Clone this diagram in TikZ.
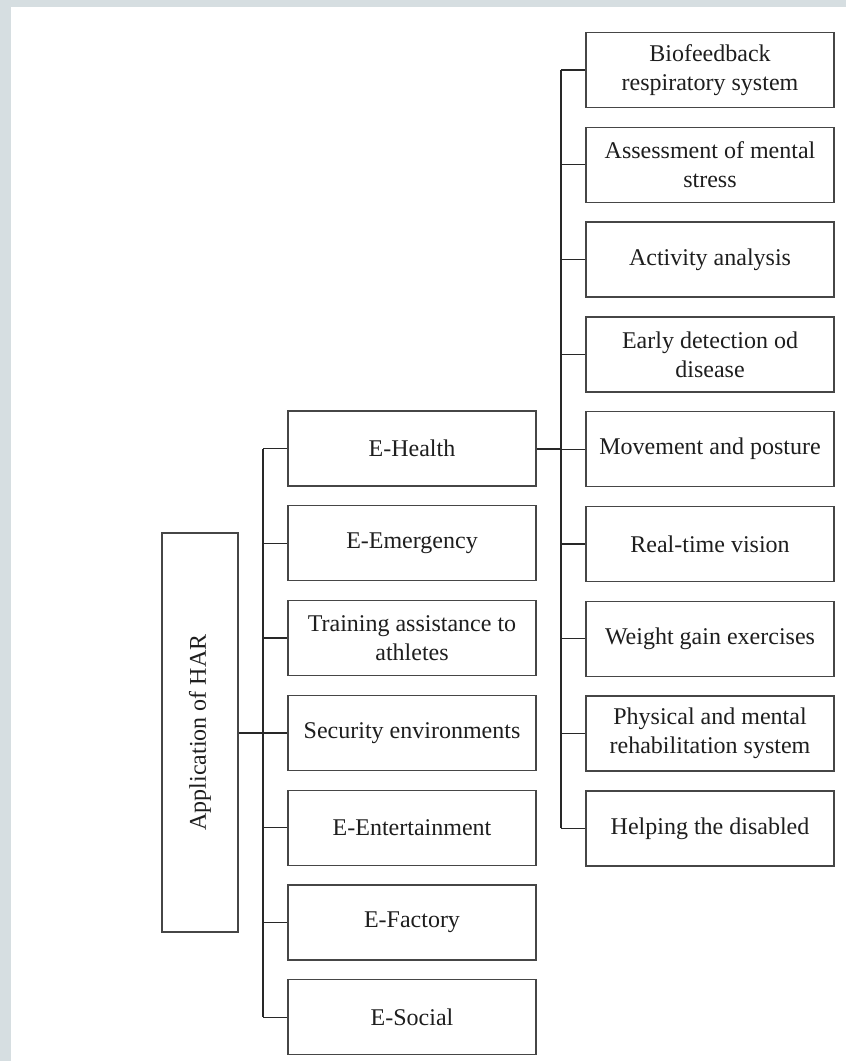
\documentclass[tikz,border=0pt]{standalone}
\usepackage{fontspec}
\setmainfont{Liberation Serif}
\usetikzlibrary{positioning}
\definecolor{harframe}{RGB}{214,222,225}
\definecolor{harline}{RGB}{40,40,40}
\definecolor{harbox}{RGB}{70,70,70}
\definecolor{hartext}{RGB}{30,30,30}

\begin{document}
\begin{tikzpicture}[x=1pt,y=-1pt]
    % Style definitions
    \tikzset{
      item/.style={draw=harbox, line width=1.3pt, minimum width=248pt,
        minimum height=75pt, inner sep=2pt, align=center, text=hartext,
        font=\fontsize{24}{29}\selectfont},
      rootbox/.style={item, rotate=90, minimum width=399pt, minimum height=76pt},
      link/.style={draw=harline, line width=1.3pt},
      trunk/.style={draw=harline, line width=2pt},
    }
    % page frame
    \useasboundingbox (0,0) rectangle (846,1061);
    \fill[harframe] (0,0) rectangle (846,1061);
    \fill[white] (11,7) rectangle (846,1061);

    % ------------------------------------------------------------------
    % Root box and the two bus lines
    % ------------------------------------------------------------------
    \node[rootbox] (app) at (200,732.5) {Application of HAR};
    \coordinate (busL) at (263,0);
    \coordinate (busR) at (561,0);

    % Middle column: fields of application
    \foreach \nm/\txt [count=\i from 0] in {
        ehealth/E-Health,
        emergency/E-Emergency,
        training/{Training assistance to\\athletes},
        security/Security environments,
        entertain/E-Entertainment,
        factory/E-Factory,
        social/E-Social}{
      \node[item] (\nm) at (412,448.5+94.8*\i) {\txt};
      \draw[link] (\nm.west -| busL) -- (\nm.west);
    }

    % Right column: E-Health applications
    \foreach \nm/\txt [count=\i from 0] in {
        bio/{Biofeedback\\respiratory system},
        stress/{Assessment of mental\\stress},
        activity/Activity analysis,
        disease/{Early detection od\\disease},
        posture/Movement and posture,
        vision/Real-time vision,
        weight/Weight gain exercises,
        rehab/{Physical and mental\\rehabilitation system},
        disabled/Helping the disabled}{
      \node[item] (\nm) at (710,70+94.8*\i) {\txt};
      \draw[link] (\nm.west -| busR) -- (\nm.west);
    }

    % Bus lines
    \draw[link] (ehealth.west -| busL) -- (social.west -| busL);
    \draw[trunk] (app.south) -- (app.south -| busL);
    \draw[trunk] (bio.west -| busR) -- (disabled.west -| busR);
    \draw[trunk] (ehealth.east) -- (ehealth.east -| busR);
\end{tikzpicture}
\end{document}
